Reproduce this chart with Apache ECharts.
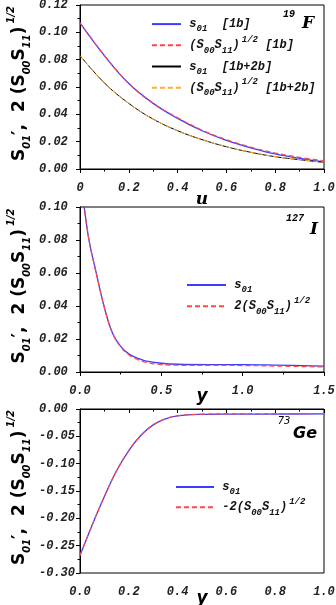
<!DOCTYPE html>
<html>
<head>
    <title>Spin structure functions</title>
    <script src="https://cdn.jsdelivr.net/npm/echarts@6/dist/echarts.min.js"></script>
    <style>body{margin:0;background:#fff}</style>
</head>
<body>
<div id="chart" style="width: 336px; height: 605px;"></div>
<script>
    // panel 1 : 19F, x = u
    var uF = [0, 0.1, 0.2, 0.3, 0.4, 0.5, 0.6, 0.7, 0.8, 0.9, 1.0];
    var fS01_1b = [0.107, 0.083, 0.0625, 0.048, 0.037, 0.028, 0.021, 0.0155, 0.011, 0.0078, 0.0052];
    var fSq_1b = [0.107, 0.083, 0.0625, 0.048, 0.0375, 0.0285, 0.0215, 0.016, 0.0117, 0.0085, 0.006];
    var fS01_2b = [0.083, 0.063, 0.048, 0.0365, 0.028, 0.0215, 0.0163, 0.0122, 0.009, 0.0068, 0.0048];
    var fSq_2b = [0.083, 0.063, 0.048, 0.0365, 0.028, 0.0215, 0.0163, 0.0122, 0.0091, 0.0069, 0.005];

    // panel 2 : 127I
    var yI = [0, 0.05, 0.1, 0.15, 0.2, 0.25, 0.3, 0.35, 0.4, 0.5, 0.6, 0.8, 1.0, 1.2, 1.5];
    var iS01 = [0.122, 0.083, 0.060, 0.039, 0.0235, 0.0155, 0.011, 0.0085, 0.0068, 0.0053, 0.0047, 0.0045, 0.0045, 0.0042, 0.0035];
    var iSq = [0.122, 0.083, 0.060, 0.039, 0.0235, 0.0152, 0.0105, 0.0078, 0.006, 0.0045, 0.0041, 0.004, 0.0039, 0.0036, 0.003];

    // panel 3 : 73Ge
    var yGe = [0, 0.05, 0.1, 0.15, 0.2, 0.25, 0.3, 0.35, 0.4, 0.5, 0.6, 0.8, 1.0];
    var gS01 = [-0.268, -0.212, -0.16, -0.113, -0.076, -0.048, -0.029, -0.018, -0.0125, -0.0098, -0.0093, -0.0092, -0.0090];
    var gSq = [-0.268, -0.212, -0.16, -0.113, -0.076, -0.048, -0.029, -0.018, -0.0122, -0.0095, -0.0089, -0.0086, -0.0082];

    var blue = '#3c3cff', red = '#ff4848', orange = '#ffad33';

    function pairs(xs, ys) {
        return xs.map(function (x, i) { return [x, ys[i]]; });
    }

    // legend texts (rich)
    var legendText = {
        'a1': ' {m|s}{sub|01}{m|  [1b]}',
        'a2': ' {m|(S}{sub|00}{m|S}{sub|11}{m|)}{sup|1/2}{m| [1b]}',
        'a3': ' {m|s}{sub|01}{m|  [1b+2b]}',
        'a4': ' {m|(S}{sub|00}{m|S}{sub|11}{m|)}{sup|1/2}{m| [1b+2b]}',
        'b1': ' {m|s}{sub|01}',
        'b2': ' {m|2(S}{sub|00}{m|S}{sub|11}{m|)}{sup|1/2}',
        'c1': ' {m|s}{sub|01}',
        'c2': ' {m|-2(S}{sub|00}{m|S}{sub|11}{m|)}{sup|1/2}'
    };
    var mono = 'Liberation Mono';
    var legendRich = {
        m: {fontFamily: mono, fontSize: 12, fontWeight: 'bold', fontStyle: 'italic', color: '#111', lineHeight: 20},
        sub: {fontFamily: mono, fontSize: 9, fontWeight: 'bold', fontStyle: 'italic', color: '#111', lineHeight: 8, padding: [10, 0, 0, 0]},
        sup: {fontFamily: mono, fontSize: 9, fontWeight: 'bold', fontStyle: 'italic', color: '#111', lineHeight: 8, padding: [0, 0, 12, 2]}
    };
    function makeLegend(names, left, top, w, gap) {
        return {
            data: names, orient: 'vertical', left: left, top: top,
            itemWidth: w, itemHeight: 10, itemGap: gap, padding: 0,
            itemStyle: {color: 'rgba(0,0,0,0)', borderColor: 'rgba(0,0,0,0)', borderWidth: 0},
            formatter: function (n) { return legendText[n]; },
            textStyle: {rich: legendRich}
        };
    }

    var yName = '{first|S}{sub|01}{m|\u2032,  2 (S}{sub|00}{m|S}{sub|11}{m|)}{sup|1/2}';
    var yNameStyle = {
        rich: {
            first: {fontFamily: 'DejaVu Sans', fontSize: 17, fontWeight: 'bold', color: '#000', lineHeight: 28, padding: [0, 0, 0, 7]},
            m: {fontFamily: 'DejaVu Sans', fontSize: 17, fontWeight: 'bold', color: '#000', lineHeight: 28},
            sub: {fontFamily: 'DejaVu Sans', fontSize: 10, fontWeight: 'bold', fontStyle: 'italic', color: '#000', lineHeight: 10, padding: [14, 0, 0, 0]},
            sup: {fontFamily: 'DejaVu Sans', fontSize: 10, fontWeight: 'bold', fontStyle: 'italic', color: '#000', lineHeight: 10, padding: [0, 0, 18, 3]}
        }
    };
    var tickFont = {fontFamily: mono, fontSize: 12, fontWeight: 'bold', fontStyle: 'italic', color: '#222'};

    function xAxis(idx, max, interval, fmt, name, gap, nameFont) {
        return {
            type: 'value', gridIndex: idx, min: 0, max: max, interval: interval,
            name: name, nameLocation: 'middle', nameGap: gap, nameMoveOverlap: false,
            nameTextStyle: {fontFamily: nameFont, fontSize: 17, fontWeight: 'bold', fontStyle: 'italic', color: '#000'},
            axisLine: {lineStyle: {color: '#000', width: 1}},
            axisTick: {inside: false, length: 4, lineStyle: {color: '#000'}},
            minorTick: {show: true, splitNumber: 2, length: 2.5, lineStyle: {color: '#000'}},
            splitLine: {show: false},
            axisLabel: Object.assign({margin: 8, formatter: fmt}, tickFont)
        };
    }
    function yAxis(idx, min, max, interval) {
        return {
            type: 'value', gridIndex: idx, min: min, max: max, interval: interval,
            name: yName, nameLocation: 'middle', nameRotate: 90, nameGap: 46, nameMoveOverlap: false,
            nameTextStyle: yNameStyle,
            axisLine: {lineStyle: {color: '#000', width: 1}},
            axisTick: {inside: false, length: 4, lineStyle: {color: '#000'}},
            minorTick: {show: true, splitNumber: 2, length: 2.5, lineStyle: {color: '#000'}},
            splitLine: {show: false},
            // labels are left-aligned in the original
            axisLabel: Object.assign({margin: 41, align: 'left', formatter: function (v) { return v.toFixed(2); }}, tickFont)
        };
    }
    function line(name, idx, data, color, width, dashed) {
        return {
            name: name, type: 'line', xAxisIndex: idx, yAxisIndex: idx, data: data,
            symbol: 'none', smooth: 0.4, clip: true,
            lineStyle: {color: color, width: width, type: dashed ? [5, 3] : 'solid'},
            itemStyle: {color: color}
        };
    }
    function note(text, x, y, font, size, italic, weight) {
        return {
            type: 'text', x: x, y: y,
            style: {text: text, fontFamily: font, fontSize: size, fontStyle: italic ? 'italic' : 'normal',
                fontWeight: weight, fill: '#000', align: 'center', verticalAlign: 'middle'}
        };
    }

    var chart = echarts.init(document.getElementById('chart'));

    var gridBase = {left: 80, width: 244, show: true, borderColor: '#000', borderWidth: 1,
        containLabel: false, outerBoundsMode: 'none'};
    var option = {
        animation: false,
        grid: [
            Object.assign({top: 5, height: 164}, gridBase),
            Object.assign({top: 207, height: 165}, gridBase),
            Object.assign({top: 409, height: 164}, gridBase)
        ],
        xAxis: [
            xAxis(0, 1, 0.2, function (v) { return v === 0 ? '0' : v.toFixed(1); }, 'u', 13, 'DejaVu Serif'),
            xAxis(1, 1.5, 0.5, function (v) { return v.toFixed(1); }, 'y', 7, 'DejaVu Sans'),
            xAxis(2, 1, 0.2, function (v) { return v.toFixed(1); }, 'y', 8, 'DejaVu Sans')
        ],
        yAxis: [
            yAxis(0, 0, 0.12, 0.02),
            yAxis(1, 0, 0.10, 0.02),
            yAxis(2, -0.3, 0, 0.05)
        ],
        legend: [
            makeLegend(['a1', 'a2', 'a3', 'a4'], 151, 11, 29, -6),
            makeLegend(['b1', 'b2'], 186, 272, 39, -6),
            makeLegend(['c1', 'c2'], 175, 474, 38, -7)
        ],
        series: [
            line('a1', 0, pairs(uF, fS01_1b), blue, 1.3, false),
            line('a2', 0, pairs(uF, fSq_1b), red, 1.2, true),
            line('a3', 0, pairs(uF, fS01_2b), '#000', 1, false),
            line('a4', 0, pairs(uF, fSq_2b), orange, 1, true),
            line('b1', 1, pairs(yI, iS01), blue, 1.3, false),
            line('b2', 1, pairs(yI, iSq), red, 1.2, true),
            line('c1', 2, pairs(yGe, gS01), blue, 1.3, false),
            line('c2', 2, pairs(yGe, gSq), red, 1.2, true)
        ],
        graphic: [
            note('19', 289, 14, mono, 10, true, 'bold'),
            note('F', 308, 24, 'DejaVu Serif', 17, true, 'bold'),
            note('127', 295, 218, mono, 10, true, 'bold'),
            note('I', 314, 230, 'DejaVu Serif', 17, true, 'bold'),
            note('73', 284, 421, 'DejaVu Sans', 10, true, 'normal'),
            note('Ge', 305, 434, 'DejaVu Sans', 16, true, 'bold')
        ]
    };

    chart.setOption(option);
</script>
</body>
</html>
